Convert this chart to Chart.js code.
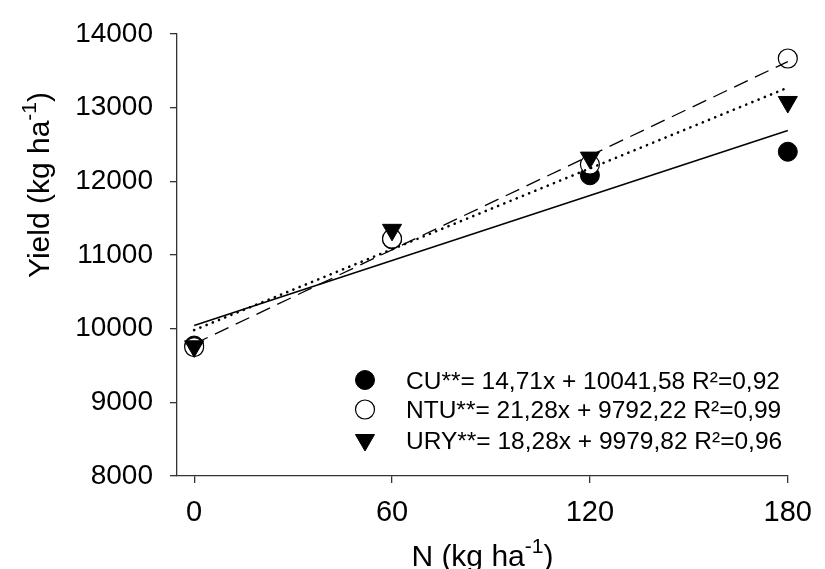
<!DOCTYPE html>
<html>
<head>
<meta charset="utf-8">
<script src="https://cdn.jsdelivr.net/npm/chart.js@4.4.1/dist/chart.umd.min.js"></script>
<style>
  html, body { margin: 0; padding: 0; background: #fff; }
  #wrap { width: 825px; height: 569px; position: relative; }
</style>
</head>
<body>
<div id="wrap"><canvas id="yieldChart"></canvas></div>
<script>
// N rates (kg ha-1) and yields
const nRates = [0, 60, 120, 180];
const cuYield = [9770, 11210, 12080, 12400];
const ntuYield = [9750, 11220, 12225, 13665];
const uryYield = [9760, 11340, 12320, 13075];

// fitted lines, ends at N = 0 and N = 180
const fitX = [0, 180];
const cuFit = [10042, 12689];
const ntuFit = [9792, 13623];
const uryFit = [9980, 13270];

const xTicks = [0, 60, 120, 180];
const yTicks = [8000, 9000, 10000, 11000, 12000, 13000, 14000];

const legendLabels = [
  'CU**= 14,71x + 10041,58 R²=0,92',
  'NTU**= 21,28x + 9792,22 R²=0,99',
  'URY**= 18,28x + 9979,82 R²=0,96'
];

const FONT = '"Liberation Sans", Arial, sans-serif';

const pts = (xs, ys) => xs.map((x, i) => ({ x: x, y: ys[i] }));

// marker styles shared by points and legend
const markers = [
  { pointStyle: 'circle', radius: 9.5, rotation: 0, fill: '#000', stroke: '#000', lw: 1 },
  { pointStyle: 'circle', radius: 9.5, rotation: 0, fill: '#fff', stroke: '#000', lw: 1.2 },
  { pointStyle: 'triangle', radius: 11, rotation: 180, fill: '#000', stroke: '#000', lw: 1 }
];

function pointSet(label, data, m, order) {
  return {
    label: label, data: data, showLine: false, order: order, clip: false,
    pointStyle: m.pointStyle, pointRadius: m.radius, pointRotation: m.rotation,
    pointBackgroundColor: m.fill, pointBorderColor: m.stroke, pointBorderWidth: m.lw,
    pointHoverRadius: m.radius
  };
}

function fitSet(label, data, dash, width, cap) {
  return {
    label: label, data: data, showLine: true, pointRadius: 0, order: 0, clip: false,
    borderColor: '#000', borderWidth: width, borderDash: dash, borderCapStyle: cap,
    fill: false, tension: 0
  };
}

// text with a raised "-1"
function drawSupText(ctx, parts, size) {
  let w = 0;
  parts.forEach(p => {
    ctx.font = (p.sup ? size * 0.7 : size) + 'px ' + FONT;
    p.w = ctx.measureText(p.t).width;
    w += p.w;
  });
  let x = -w / 2;
  parts.forEach(p => {
    ctx.font = (p.sup ? size * 0.7 : size) + 'px ' + FONT;
    ctx.fillText(p.t, x, p.sup ? -size * 0.42 : 0);
    x += p.w;
  });
}

const extras = {
  id: 'extras',
  afterDraw(chart) {
    const ctx = chart.ctx;
    const area = chart.chartArea;
    ctx.save();
    ctx.fillStyle = '#000';
    ctx.textAlign = 'left';
    ctx.textBaseline = 'alphabetic';

    // x title
    ctx.save();
    ctx.translate((area.left + area.right) / 2, 566);
    drawSupText(ctx, [{ t: 'N (kg ha' }, { t: '-1', sup: true }, { t: ')' }], 30);
    ctx.restore();

    // y title
    ctx.save();
    ctx.translate(49, 185);
    ctx.rotate(-Math.PI / 2);
    drawSupText(ctx, [{ t: 'Yield (kg ha' }, { t: '-1', sup: true }, { t: ')' }], 30);
    ctx.restore();

    // legend
    const rowY = [380, 409.5, 440];
    legendLabels.forEach((txt, i) => {
      const m = markers[i];
      ctx.fillStyle = m.fill;
      ctx.strokeStyle = m.stroke;
      ctx.lineWidth = m.lw;
      Chart.helpers.drawPoint(ctx, { pointStyle: m.pointStyle, rotation: m.rotation, radius: m.radius, borderWidth: m.lw }, 365, rowY[i]);
      ctx.fillStyle = '#000';
      ctx.font = '24.5px ' + FONT;
      ctx.fillText(txt, 406, rowY[i] + 8.5);
    });
    ctx.restore();
  }
};

new Chart(document.getElementById('yieldChart'), {
  type: 'scatter',
  data: {
    datasets: [
      fitSet('CU fit', pts(fitX, cuFit), [], 1.5, 'butt'),
      fitSet('NTU fit', pts(fitX, ntuFit), [15, 8], 1.3, 'butt'),
      fitSet('URY fit', pts(fitX, uryFit), [0.1, 6.6], 2.6, 'round'),
      pointSet('URY', pts(nRates, uryYield), markers[2], 3),
      pointSet('NTU', pts(nRates, ntuYield), markers[1], 4),
      pointSet('CU', pts(nRates, cuYield), markers[0], 5)
    ]
  },
  options: {
    responsive: true, maintainAspectRatio: false, animation: false,
    layout: { padding: { top: 27, right: 27, left: 0, bottom: 0 } },
    plugins: { legend: { display: false }, tooltip: { enabled: false } },
    scales: {
      x: {
        type: 'linear', min: -5.2, max: 180,
        afterBuildTicks: s => { s.ticks = xTicks.map(v => ({ value: v })); },
        afterFit: s => { s.height = 93; },
        grid: { drawOnChartArea: false, drawTicks: true, tickLength: 7, color: '#333', lineWidth: 1.3 },
        border: { display: true, color: '#333', width: 1.3 },
        ticks: { color: '#000', font: { family: FONT, size: 29 }, padding: 13, maxRotation: 0 }
      },
      y: {
        type: 'linear', min: 8000, max: 14000,
        afterBuildTicks: s => { s.ticks = yTicks.map(v => ({ value: v })); },
        afterFit: s => { s.width = 177; },
        grid: { drawOnChartArea: false, drawTicks: true, tickLength: 7, color: '#333', lineWidth: 1.3 },
        border: { display: true, color: '#333', width: 1.3 },
        ticks: { color: '#000', font: { family: FONT, size: 28 }, padding: 17, callback: v => String(v) }
      }
    }
  },
  plugins: [extras]
});
</script>
</body>
</html>
